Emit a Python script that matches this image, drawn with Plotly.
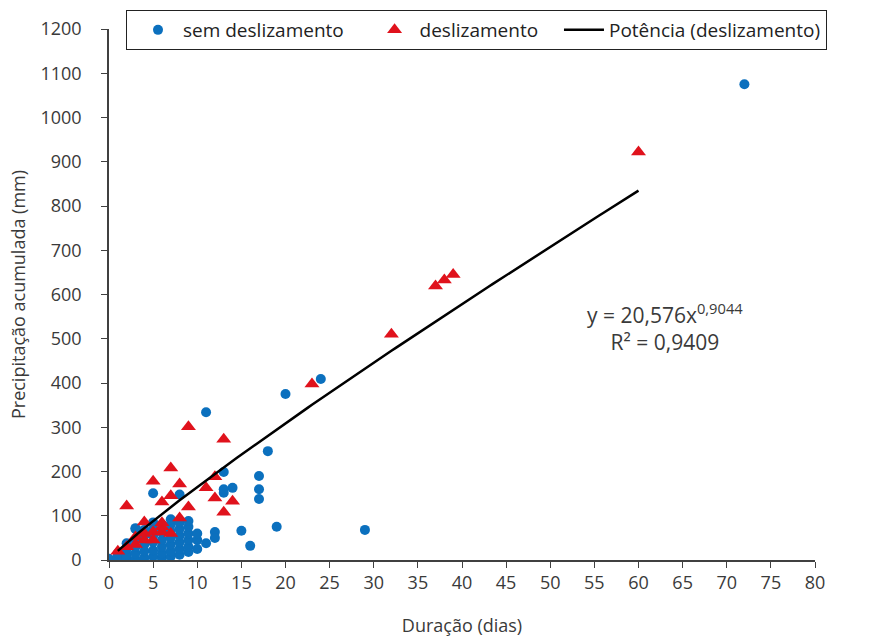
import plotly.graph_objects as go

# sem deslizamento (no landslide)
sem_x = [0, 0, 1, 1, 1, 2, 2, 2, 2, 3, 3, 3, 3, 3, 4, 4, 4, 4, 4,
         5, 5, 5, 5, 5, 5, 6, 6, 6, 6, 6, 6, 7, 7, 7, 7, 7, 7, 7,
         8, 8, 8, 8, 8, 8, 9, 9, 9, 9, 9, 9, 10, 11, 12, 12, 13, 13,
         14, 15, 16, 17, 17, 17, 18, 19, 20, 24, 29, 72, 5, 8, 11, 3, 13, 10, 10]
sem_y = [0, 3, 2, 8, 15, 4, 12, 25, 38, 2, 15, 30, 45, 70, 5, 20, 35, 55, 68,
         8, 22, 40, 55, 70, 85, 4, 15, 30, 45, 62, 80, 8, 20, 35, 50, 65, 80, 92,
         12, 25, 40, 55, 70, 85, 18, 30, 45, 60, 75, 88, 45, 38, 63, 50, 199, 152,
         163, 66, 32, 190, 160, 138, 246, 75, 375, 409, 68, 1075, 151, 148, 334, 72, 160, 60, 25]

# deslizamento (landslide)
des_x = [1, 2, 2, 3, 3, 4, 4, 4, 5, 5, 5, 6, 6, 6, 6, 7, 7, 7, 8, 8, 9, 9,
         11, 12, 12, 13, 13, 14, 23, 32, 37, 38, 39, 60]
des_y = [20, 30, 122, 52, 35, 45, 86, 60, 63, 178, 45, 75, 131, 84, 63, 145, 208, 60, 95, 172, 120, 301,
         163, 188, 140, 108, 273, 133, 398, 510, 619, 633, 645, 922]

# Power trendline coefficients (y = a x^b)
coef_a = 20.576
coef_b = 0.9044
trend_x = [1 + i * 0.5 for i in range(119)]
trend_y = [coef_a * xv ** coef_b for xv in trend_x]

x_ticks = list(range(0, 81, 5))
y_ticks = list(range(0, 1201, 100))

font_family = "Open Sans, Noto Sans, sans-serif"
text_col = "#3a3a3a"
NB = "\u00a0"

fig = go.Figure()
fig.add_trace(go.Scatter(
    x=sem_x, y=sem_y, mode="markers", name="sem deslizamento" + NB * 3,
    marker=dict(symbol="circle", size=10, color="#0B70BE"),
))
fig.add_trace(go.Scatter(
    x=des_x, y=des_y, mode="markers", name="deslizamento" + NB * 2,
    marker=dict(symbol="triangle-up", size=13, color="#E0121C"),
))
fig.add_trace(go.Scatter(
    x=trend_x, y=trend_y, mode="lines", name="Potência (deslizamento)",
    line=dict(color="black", width=2.5),
))

fig.add_annotation(
    x=63.0, y=526, xref="x", yref="y", showarrow=False,
    text="y = 20,576x<sup>0,9044</sup><br>R² = 0,9409",
    font=dict(size=21, color=text_col, family=font_family), align="center",
)

fig.update_layout(
    width=870, height=639,
    margin=dict(l=109, r=55, t=29, b=79, autoexpand=False),
    paper_bgcolor="white", plot_bgcolor="white",
    font=dict(family=font_family, color=text_col, size=18),
    showlegend=True,
    legend=dict(
        orientation="h", xref="paper", yref="paper",
        x=(126 - 109) / 706, y=1 + 19 / 531, xanchor="left", yanchor="top",
        bordercolor="#222222", borderwidth=1, bgcolor="white",
        font=dict(size=19, color="#222222"),
        itemsizing="trace", itemwidth=40, indentation=6,
        tracegroupgap=0,
    ),
    xaxis=dict(
        range=[0, 80], tickvals=x_ticks, ticktext=[str(v) for v in x_ticks],
        showgrid=False, zeroline=False, showline=True, linecolor="#404040", linewidth=1.5,
        ticks="outside", ticklen=6, tickcolor="#404040", automargin=False,
        title=dict(text="Duração (dias)", font=dict(size=18, color=text_col), standoff=26),
        tickfont=dict(size=18, color=text_col),
    ),
    yaxis=dict(
        range=[0, 1200], tickvals=y_ticks, ticktext=[str(v) for v in y_ticks],
        showgrid=False, zeroline=False, showline=True, linecolor="#404040", linewidth=1.5,
        ticks="outside", ticklen=6, tickcolor="#404040", ticklabelstandoff=16, automargin=False,
        title=dict(text="Precipitação acumulada (mm)", font=dict(size=18, color=text_col), standoff=10),
        tickfont=dict(size=18, color=text_col),
    ),
)

fig.write_html("out.html")
